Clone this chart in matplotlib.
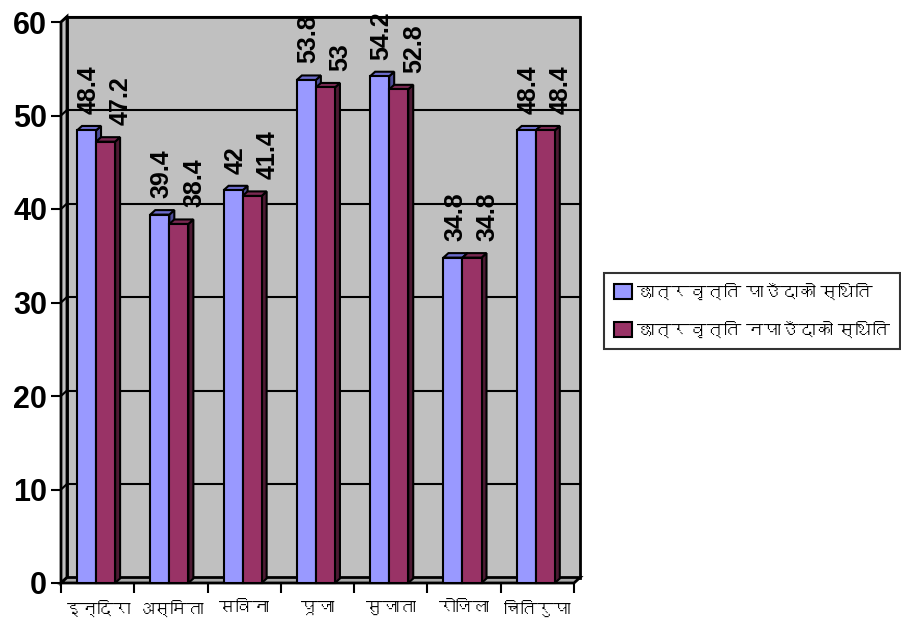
import matplotlib
matplotlib.use('Agg')
import matplotlib.pyplot as plt
from matplotlib import font_manager
from matplotlib.ft2font import FT2Font
from matplotlib.patches import Polygon, Patch

categories = ['इन्दिरा', 'अस्मिता', 'सविना', 'पूजा', 'सुजाता', 'रोजिला', 'चितिरुपा']
with_scholarship = [48.4, 39.4, 42, 53.8, 54.2, 34.8, 48.4]
without_scholarship = [47.2, 38.4, 41.4, 53, 52.8, 34.8, 48.4]
series_names = ['छात्रवृत्ति पाउँदाको स्थिति', 'छात्रवृत्ति नपाउँदाको स्थिति']


def find_devanagari_font():
    """Return the name of an installed font that has Devanagari glyphs."""
    found = []
    for f in font_manager.fontManager.ttflist:
        try:
            if 0x0915 in FT2Font(f.fname).get_charmap():
                found.append(f)
        except Exception:
            pass
    if not found:
        return None
    found.sort(key=lambda f: abs(f.weight - 400) if isinstance(f.weight, int) else 0)
    return found[0].name


dev_font = find_devanagari_font()
families = ['Liberation Sans']
if dev_font:
    families.append(dev_font)
families.append('DejaVu Sans')
plt.rcParams['font.family'] = families

fig = plt.figure(figsize=(9.01, 6.22), dpi=100)
ax = fig.add_axes([61 / 901, 39 / 622, 513 / 901, 561 / 622])
ax.set_xlim(0, 7)
ax.set_ylim(0, 60)
ax.patch.set_visible(False)
for s in ax.spines.values():
    s.set_visible(False)

# depth of the walls and of the bars, in data units
dx, dy = 6 / 73.3, 5.5 / 9.35
bdx, bdy = 5 / 73.3, 4.5 / 9.35

wall = '#c0c0c0'
ax.add_patch(Polygon([(dx, dy), (7 + dx, dy), (7 + dx, 60 + dy), (dx, 60 + dy)],
                     facecolor=wall, edgecolor='black', lw=2, clip_on=False, zorder=0))
ax.add_patch(Polygon([(0, 0), (dx, dy), (dx, 60 + dy), (0, 60)],
                     facecolor=wall, edgecolor='black', lw=2, clip_on=False, zorder=0))
ax.add_patch(Polygon([(0, 0), (7, 0), (7 + dx, dy), (dx, dy)],
                     facecolor='#a8a8a8', edgecolor='black', lw=2, clip_on=False, zorder=0.5))

for v in range(10, 61, 10):
    ax.plot([dx, 7 + dx], [v + dy, v + dy], color='black', lw=1.5, clip_on=False, zorder=1)
    ax.plot([0, dx], [v, v + dy], color='black', lw=1.5, clip_on=False, zorder=1)


def draw_bar(x0, w, h, colors):
    front, top, side = colors
    faces = [
        ([(x0 + w, 0), (x0 + w + bdx, bdy), (x0 + w + bdx, h + bdy), (x0 + w, h)], side),
        ([(x0, h), (x0 + w, h), (x0 + w + bdx, h + bdy), (x0 + bdx, h + bdy)], top),
        ([(x0, 0), (x0 + w, 0), (x0 + w, h), (x0, h)], front),
    ]
    for pts, c in faces:
        ax.add_patch(Polygon(pts, facecolor=c, edgecolor='black', lw=1.5,
                             joinstyle='miter', clip_on=False, zorder=3))


blue = ('#9999ff', '#6b6bcc', '#4d4d99')
maroon = ('#993366', '#7a2952', '#4d1a33')
bar_w = 0.26
start = 0.218
for i in range(len(categories)):
    x_blue = i + start
    x_red = i + start + bar_w
    draw_bar(x_blue, bar_w, with_scholarship[i], blue)
    draw_bar(x_red, bar_w, without_scholarship[i], maroon)
    ax.annotate(f'{with_scholarship[i]:g}', (x_blue + bar_w / 2, with_scholarship[i]),
                xytext=(1.5, 12), textcoords='offset points', rotation=90,
                ha='center', va='bottom', fontsize=18, fontweight='bold',
                annotation_clip=False, zorder=5)
    ax.annotate(f'{without_scholarship[i]:g}', (x_red + bar_w / 2, without_scholarship[i]),
                xytext=(11, 12), textcoords='offset points', rotation=90,
                ha='center', va='bottom', fontsize=18, fontweight='bold',
                annotation_clip=False, zorder=5)

ax.set_yticks(range(0, 61, 10))
ax.set_yticklabels([str(v) for v in range(0, 61, 10)], fontsize=22, fontweight='bold')
ax.tick_params(axis='y', length=7, width=1.5, pad=3)

ax.set_xticks(range(0, 8))
ax.set_xticklabels([])
ax.set_xticks([i + 0.5 for i in range(len(categories))], minor=True)
ax.set_xticklabels(categories, minor=True, fontsize=12)
ax.tick_params(axis='x', which='major', length=7, width=1.5)
ax.tick_params(axis='x', which='minor', length=0, pad=13)

handles = [Patch(facecolor=blue[0], edgecolor='black', lw=1.5),
           Patch(facecolor=maroon[0], edgecolor='black', lw=1.5)]
leg = fig.legend(handles, series_names, loc='center left',
                 bbox_to_anchor=(604 / 901, 0.5), fontsize=12.5, frameon=True,
                 fancybox=False, edgecolor='black', handlelength=1.0,
                 handleheight=1.0, handletextpad=0.3, borderpad=0.6,
                 labelspacing=1.2, borderaxespad=0)
leg.get_frame().set_linewidth(1.5)

fig.savefig('out.png', dpi=100)
